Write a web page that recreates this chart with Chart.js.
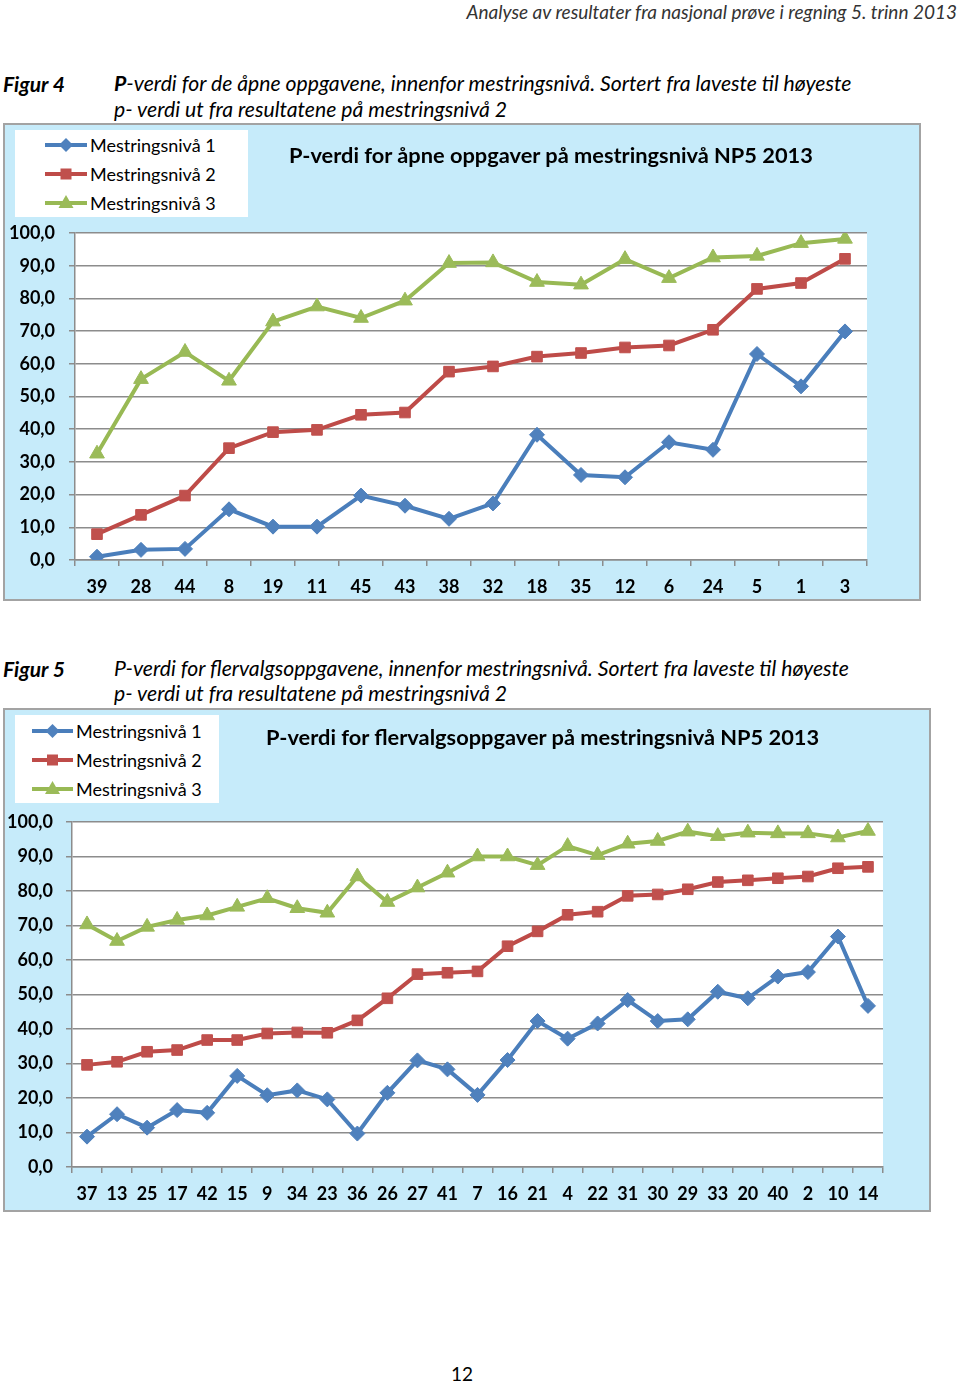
<!DOCTYPE html>
<html><head><meta charset="utf-8">
<script src="https://cdn.jsdelivr.net/npm/chart.js@4.4.0/dist/chart.umd.min.js"></script>
<style>
body{margin:0;width:960px;height:1381px;background:#fff;position:relative;font-family:Lato,"Open Sans",sans-serif;color:#000;overflow:hidden}
.abs{position:absolute;white-space:nowrap;line-height:1}
.hdr{font-style:italic;font-size:19px;color:#333}
.cap{font-style:italic;font-size:21.2px;color:#000}
.fig{font-style:italic;font-weight:bold;font-size:21px}
.box{position:absolute;background:#c6ebfa;border:2px solid #a3a3a3;box-sizing:border-box}
.legend{position:absolute;background:#fff}
.lrow{position:absolute;display:flex;align-items:center;font-size:18px;white-space:nowrap}
.title{font-weight:bold;font-size:21.8px}
canvas{position:absolute}
</style></head>
<body>
<div class="abs hdr" id="hdr" style="right:3px;top:2px">Analyse av resultater fra nasjonal prøve i regning 5. trinn 2013</div>

<div class="abs fig" style="left:3px;top:73px">Figur 4</div>
<div class="abs cap" style="left:114px;top:73px"><b>P</b>-verdi for de åpne oppgavene, innenfor mestringsnivå. Sortert fra laveste til høyeste</div>
<div class="abs cap" style="left:114px;top:99px">p- verdi ut fra resultatene på mestringsnivå 2</div>

<div class="box" style="left:3px;top:123px;width:918px;height:478px"></div>
<canvas id="c1" width="918" height="478" style="left:3px;top:123px"></canvas>
<div class="legend" id="leg1" style="left:15px;top:130px;width:233px;height:87px"></div>
<div class="abs title" style="left:289px;top:144px">P-verdi for åpne oppgaver på mestringsnivå NP5 2013</div>

<div class="abs fig" style="left:3px;top:658px">Figur 5</div>
<div class="abs cap" style="left:114px;top:658px">P-verdi for flervalgsoppgavene, innenfor mestringsnivå. Sortert fra laveste til høyeste</div>
<div class="abs cap" style="left:114px;top:683px">p- verdi ut fra resultatene på mestringsnivå 2</div>

<div class="box" style="left:3px;top:708px;width:928px;height:504px"></div>
<canvas id="c2" width="928" height="504" style="left:3px;top:708px"></canvas>
<div class="legend" id="leg2" style="left:15px;top:715px;width:204px;height:88px"></div>
<div class="abs title" style="left:266px;top:726px">P-verdi for flervalgsoppgaver på mestringsnivå NP5 2013</div>

<div class="abs" style="left:451px;top:1364px;font-size:19px">12</div>

<script>
// ---------- DATA ----------
const seriesNames = ["Mestringsnivå 1", "Mestringsnivå 2", "Mestringsnivå 3"];

const fig4Categories = ["39","28","44","8","19","11","45","43","38","32","18","35","12","6","24","5","1","3"];
const fig4Niva1 = [1.0, 3.1, 3.4, 15.5, 10.2, 10.2, 19.7, 16.6, 12.6, 17.3, 38.3, 26.0, 25.3, 36.0, 33.7, 63.0, 53.1, 69.9];
const fig4Niva2 = [7.9, 13.8, 19.7, 34.2, 39.1, 39.8, 44.4, 45.1, 57.6, 59.2, 62.2, 63.3, 65.0, 65.6, 70.4, 82.9, 84.7, 92.1];
const fig4Niva3 = [32.5, 55.3, 63.6, 54.8, 72.9, 77.5, 74.0, 79.3, 90.8, 91.0, 85.0, 84.2, 92.0, 86.2, 92.5, 93.0, 96.9, 98.2];

const fig5Categories = ["37","13","25","17","42","15","9","34","23","36","26","27","41","7","16","21","4","22","31","30","29","33","20","40","2","10","14"];
const fig5Niva1 = [8.8, 15.3, 11.4, 16.5, 15.7, 26.4, 20.8, 22.2, 19.6, 9.7, 21.5, 30.9, 28.3, 20.9, 31.0, 42.3, 37.2, 41.6, 48.4, 42.3, 42.8, 50.8, 48.9, 55.2, 56.5, 66.8, 46.7];
const fig5Niva2 = [29.6, 30.5, 33.4, 33.9, 36.8, 36.8, 38.7, 39.0, 38.9, 42.5, 48.9, 55.9, 56.3, 56.7, 64.0, 68.3, 73.1, 74.0, 78.6, 79.0, 80.5, 82.6, 83.1, 83.7, 84.2, 86.6, 87.0];
const fig5Niva3 = [70.3, 65.5, 69.6, 71.6, 72.9, 75.4, 77.9, 75.0, 73.7, 84.2, 76.8, 81.0, 85.3, 90.0, 90.0, 87.5, 93.0, 90.4, 93.7, 94.5, 97.2, 95.9, 96.9, 96.7, 96.7, 95.5, 97.4];

const yTicks = [0, 10, 20, 30, 40, 50, 60, 70, 80, 90, 100];

// ---------- STYLE ----------
const styles = [
  {line:"#4A7EBB", fill:"#4F81BD", point:"rectRot", r:7.5},
  {line:"#BE4B48", fill:"#C0504D", point:"rect", r:7.5},
  {line:"#98B954", fill:"#9BBB59", point:"triangle", r:8.5}
];

const plotBg = {
  id:"plotBg",
  beforeDraw(chart){
    const a = chart.chartArea, ctx = chart.ctx;
    ctx.save(); ctx.fillStyle = "#fff";
    ctx.fillRect(a.left, a.top, a.right - a.left, a.bottom - a.top);
    ctx.restore();
  }
};

function makeChart(id, cats, series, geo){
  const ds = series.map((d, i) => ({
    label: seriesNames[i], data: d,
    borderColor: styles[i].line, backgroundColor: styles[i].fill,
    pointBackgroundColor: styles[i].fill, pointBorderColor: styles[i].fill,
    pointStyle: styles[i].point, pointRadius: styles[i].r, pointBorderWidth: 1,
    borderWidth: 4, tension: 0
  }));
  return new Chart(document.getElementById(id), {
    type: "line",
    data: {labels: cats, datasets: ds},
    plugins: [plotBg],
    options: {
      responsive: false, animation: false, devicePixelRatio: 1,
      layout: {padding: {left: 0, top: geo.top, right: geo.right, bottom: 0}},
      plugins: {legend: {display: false}, tooltip: {enabled: false}},
      scales: {
        x: {
          offset: true,
          grid: {offset: true, drawOnChartArea: false, drawTicks: true, tickLength: 6, color: "#8c8c8c", lineWidth: 1.5},
          border: {display: true, color: "#8c8c8c", width: 1.5},
          ticks: {color: "#000", font: {family: "Lato", weight: "bold", size: 18}, padding: geo.xpad, maxRotation: 0, autoSkip: false},
          afterFit(s){ s.height = geo.xh; }
        },
        y: {
          min: 0, max: 100,
          afterBuildTicks(s){ s.ticks = yTicks.map(v => ({value: v})); },
          grid: {color: "#8c8c8c", lineWidth: 1.5, tickLength: 6},
          border: {display: true, color: "#8c8c8c", width: 1.5},
          ticks: {color: "#000", font: {family: "Lato", weight: "bold", size: 18}, padding: geo.ypad,
                  callback: v => v.toFixed(1).replace(".", ",")},
          afterFit(s){ s.width = geo.yw; }
        }
      }
    }
  });
}

makeChart("c1", fig4Categories, [fig4Niva1, fig4Niva2, fig4Niva3], {top:110, right:918-864, xh:478-437, yw:72, ypad:14, xpad:10});
makeChart("c2", fig5Categories, [fig5Niva1, fig5Niva2, fig5Niva3], {top:114, right:928-880, xh:504-459, yw:69, ypad:13, xpad:10});

// ---------- LEGENDS ----------
function markerSvg(i, x1, x2){
  const s = styles[i], cx = (x1 + x2) / 2, cy = 10;
  let m;
  if (s.point === "rectRot") m = `<polygon points="${cx},${cy-7} ${cx+7},${cy} ${cx},${cy+7} ${cx-7},${cy}" fill="${s.fill}"/>`;
  else if (s.point === "rect") m = `<rect x="${cx-5.5}" y="${cy-5.5}" width="11" height="11" fill="${s.fill}"/>`;
  else m = `<polygon points="${cx},${cy-8} ${cx+7.5},${cy+5} ${cx-7.5},${cy+5}" fill="${s.fill}"/>`;
  return `<svg width="${x2}" height="20" style="display:block"><line x1="${x1}" y1="${cy}" x2="${x2}" y2="${cy}" stroke="${s.line}" stroke-width="4"/>${m}</svg>`;
}
function buildLegend(id, lineX, lineW, rows){
  const el = document.getElementById(id);
  seriesNames.forEach((n, i) => {
    const r = document.createElement("div");
    r.className = "lrow";
    r.style.left = "0px"; r.style.top = (rows[i] - 10) + "px";
    r.innerHTML = markerSvg(i, lineX, lineX + lineW) + `<span style="margin-left:3px">${n}</span>`;
    el.appendChild(r);
  });
}
buildLegend("leg1", 30, 42, [14, 43, 72]);
buildLegend("leg2", 17, 41, [15, 44, 73]);
</script>
</body></html>
